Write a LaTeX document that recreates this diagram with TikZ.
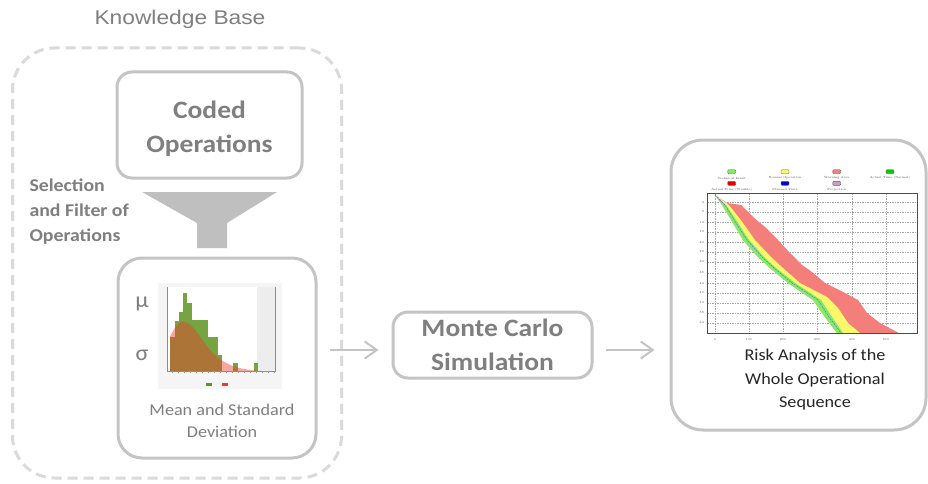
\documentclass[tikz,border=0pt]{standalone}
\usepackage{fontspec}
\newfontfamily\calib[FakeStretch=1.1]{Carlito}
\newfontfamily\arialf[FakeStretch=1.15]{Liberation Sans}
\usetikzlibrary{arrows.meta}

\definecolor{txtgray}{HTML}{7F7F7F}
\definecolor{boxgray}{HTML}{C4C4C4}
\definecolor{dashgray}{HTML}{DADADA}
\definecolor{funnelgray}{HTML}{BFBFBF}
\definecolor{histgreen}{HTML}{5E9420}
\definecolor{histred}{HTML}{F03A2A}
\definecolor{riskred}{HTML}{F47F7A}
\definecolor{riskyellow}{HTML}{F8F86A}
\definecolor{riskgreen}{HTML}{7FEC63}

\tikzset{
  box/.style={draw=boxgray, line width=3pt, rounded corners=#1, fill=white},
  box/.default=15pt,
  boldtxt/.style={text=txtgray, align=center, font=\calib\bfseries\fontsize{25}{34}\selectfont},
  flow/.style={draw=boxgray, line width=2pt, -{Straight Barb[length=12pt,width=17pt,line width=2pt]}},
  tiny/.style={font=\fontsize{3}{3}\selectfont, text=black!70, inner sep=0pt},
  legbox/.style={draw=black!60, line width=0.4pt, rounded corners=1pt, minimum width=8pt, minimum height=4pt, inner sep=0pt}
}

\begin{document}
\begin{tikzpicture}[x=1pt, y=-1pt]
  \useasboundingbox (0,0) rectangle (928,484);
  \fill[white] (0,0) rectangle (928,484);

  \node[text=txtgray, font=\arialf\fontsize{19.8}{20}\selectfont] (kb) at (180,19) {Knowledge Base};
  \node[draw=dashgray, line width=3pt, dash pattern=on 10pt off 6pt, rounded corners=42pt,
        minimum width=329pt, minimum height=430pt] (kbbox) at (177,263) {};

  \node[box, minimum width=185pt, minimum height=106pt] (coded) at (209.5,125) {};
  \node[boldtxt] (codedtxt) at ([yshift=-4pt]coded.center) {Coded\\Operations};

  % funnel
  \fill[funnelgray] (142,192) -- (277,192) -- (227,223) -- (227,248) -- (197,248) -- (197,223) -- cycle;
  \node[anchor=west, text=txtgray, align=left, font=\calib\bfseries\fontsize{18}{25}\selectfont] (filter) at (26,212)
    {Selection\\and Filter of\\Operations};

  \node[box=24pt, minimum width=198pt, minimum height=200pt] (meanbox) at (217,358) {};

  % histogram
  \fill[black!4] (158,283) rectangle (282,389);
  \fill[white] (167,287) rectangle (275,371);
  \fill[black!7] (257,287) rectangle (275,371);
  \foreach \xa/\xb/\top in {170/175/337, 175/179.3/320.7, 179.3/183.3/311.7, 183.3/187.3/293.3,
      187.3/191.7/302.7, 191.7/208.3/320, 208.3/218.3/337.3, 218.3/221.7/355,
      233.3/238.3/363.3, 254/258/363.3}
    \fill[histgreen!85] (\xa,371) rectangle (\xb,\top);
  \fill[histred, opacity=0.45] (170,371) -- (170,336.7) .. controls (176,324) and (180,321.7) .. (183.3,321.7)
    .. controls (192,322) and (200,338) .. (210,350) .. controls (220,362) and (235,370) .. (262,371) -- cycle;
  \draw[black!45, line width=0.5pt] (167,287) -- (167,371) -- (275,371) -- (275,287);
  \foreach \gx in {172,178,...,274} \draw[black!40, line width=0.3pt] (\gx,371) -- (\gx,373);
  \fill[histgreen] (206,383) rectangle (212,386);
  \fill[histred] (222,383) rectangle (228,386);
  \node[text=txtgray, font=\calib\fontsize{22}{22}\selectfont] (mu) at (142,304) {μ};
  \node[text=txtgray, font=\calib\fontsize{22}{22}\selectfont] (sigma) at (142,355) {σ};
  \node[text=txtgray, align=center, font=\calib\fontsize{16.5}{22}\selectfont] (meantxt) at (222,421)
    {Mean and Standard\\Deviation};

  \node[box, minimum width=199pt, minimum height=66pt, boldtxt] (mcsim) at (492.5,345) {Monte Carlo\\Simulation};

  \node[box=32pt, minimum width=255pt, minimum height=290pt] (riskbox) at (798.5,285) {};

  % risk chart
  \foreach \gy/\lab in {202/4, 212/9, 222/14, 232/19, 242/24, 252/29, 262/34, 273/39, 283/44, 293/49, 303/54, 313/59, 323/64} {
    \draw[black!35, line width=0.4pt, dash pattern=on 1.5pt off 1pt] (707,\gy) -- (917,\gy);
    \node[tiny, anchor=east] at (704,\gy) {\lab};
  }
  \foreach \gx/\lab in {715/0, 749/100, 783/200, 817/300, 852/400, 886/500} {
    \draw[black!35, line width=0.4pt, dash pattern=on 1.5pt off 1pt] (\gx,193) -- (\gx,333);
    \node[tiny] at (\gx,340) {\lab};
  }
  \fill[riskred] (715,195) -- (727,203) -- (741,205) -- (753,217) -- (765,227) -- (778,240) -- (790,253)
    -- (802,265) -- (812,272) -- (825,283) -- (845,293) -- (858,300) -- (867,313) -- (880,323)
    -- (897,332) -- (898,333) -- (837,333) -- (825,317) -- (813,300) -- (788,283) -- (770,268)
    -- (758,257) -- (743,240) -- (733,223) -- (722,205) -- cycle;
  \fill[riskyellow] (715,195) -- (729,205) -- (743,223) -- (755,240) -- (771,257) -- (783,268) -- (800,283)
    -- (827,297) -- (838,308) -- (848,323) -- (860,333) -- (837,333) -- (825,317) -- (813,300) -- (788,283)
    -- (770,268) -- (758,257) -- (743,240) -- (733,223) -- (722,205) -- cycle;
  \fill[riskgreen] (715,195) -- (726,205) -- (738,223) -- (749,240) -- (764,257) -- (776,268) -- (795,283)
    -- (821,300) -- (832,317) -- (843,333) -- (837,333) -- (825,317) -- (813,300) -- (788,283) -- (770,268)
    -- (758,257) -- (743,240) -- (733,223) -- (722,205) -- cycle;
  \draw[blue!60, line width=0.5pt, dash pattern=on 2pt off 1pt] (715,195) -- (725,205) -- (736,223)
    -- (747,240) -- (762,257) -- (774,268) -- (792,283) -- (818,300) -- (829,317) -- (841,333);
  \draw[black!70, line width=0.6pt] (707,193) rectangle (917,333);

  \node[legbox, fill=riskgreen] (lgtech) at (731.7,171.7) {};
  \node[legbox, fill=riskyellow] (lgnorm) at (785,171.7) {};
  \node[legbox, fill=riskred] (lgwarn) at (836.7,171.7) {};
  \node[legbox, fill=green!80!black] (lgact) at (890,171.7) {};
  \node[legbox, fill=red!90!black] (lgtrou) at (731.7,183.3) {};
  \node[legbox, fill=blue!80!black] (lgplan) at (785,183.3) {};
  \node[legbox, fill=violet!40] (lgproj) at (836.7,183.3) {};
  \node[tiny] at (731.7,178) {Technical Limit};
  \node[tiny] at (785,178) {Normal Operation};
  \node[tiny] at (836.7,178) {Warning Area};
  \node[tiny] at (890,178) {Actual Time (Normal)};
  \node[tiny] at (731.7,189.5) {Actual Time (Trouble)};
  \node[tiny] at (785,189.5) {Planned Time};
  \node[tiny] at (836.7,189.5) {Projection};

  \node[text=black!85, align=center, font=\calib\fontsize{16.5}{23.5}\selectfont] (risktxt) at (815,380)
    {Risk Analysis of the\\Whole Operational\\Sequence};

  \coordinate (flowy) at (0,350);
  \draw[flow, shorten <=12pt, shorten >=13pt] (meanbox.east |- flowy) -- (mcsim.west |- flowy);
  \draw[flow, shorten <=12pt, shorten >=15pt] (mcsim.east |- flowy) -- (riskbox.west |- flowy);
\end{tikzpicture}
\end{document}
